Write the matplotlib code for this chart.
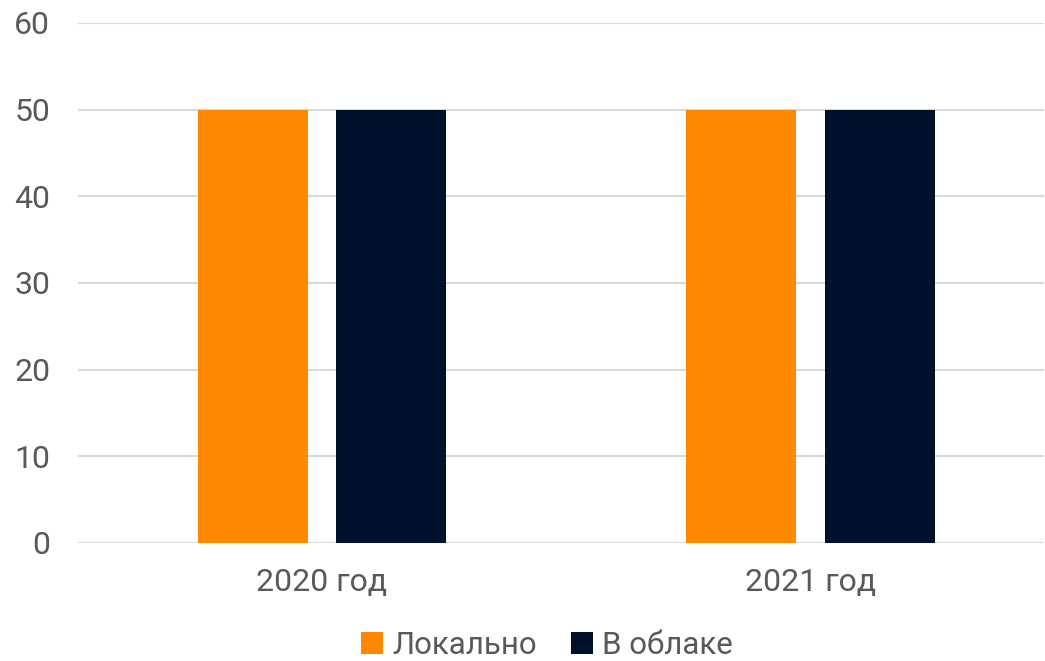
import matplotlib
matplotlib.use("Agg")
import matplotlib.pyplot as plt
from matplotlib.patches import Patch
import numpy as np

categories = ["2020 год", "2021 год"]
series_names = ["Локально", "В облаке"]
local_vals = [50, 50]
cloud_vals = [50, 50]
yticks = [0, 10, 20, 30, 40, 50, 60]

colors = ["#FF8800", "#00112B"]
text_color = "#595959"

plt.rcParams['font.family'] = ['Roboto', 'DejaVu Sans']

fig = plt.figure(figsize=(10.45, 6.61), dpi=100)
W, H = 1045, 661
ax = fig.add_axes([78 / W, (H - 543) / H, (1044 - 78) / W, (543 - 23) / H])

x = np.arange(len(categories))
bw = 0.225
off = 0.142
ax.bar(x - off, local_vals, bw, color=colors[0], label=series_names[0], zorder=3)
ax.bar(x + off, cloud_vals, bw, color=colors[1], label=series_names[1], zorder=3)

ax.set_xlim(-0.4995, 1.478)
ax.set_ylim(0, 60)
ax.set_yticks(yticks)
ax.set_yticklabels([str(v) for v in yticks])
ax.set_xticks(x)
ax.set_xticklabels(categories)

for s in ax.spines.values():
    s.set_visible(False)
ax.yaxis.grid(True, color="#D9D9D9", linewidth=1.5, zorder=0)
ax.tick_params(axis="both", length=0, labelsize=23, colors=text_color)
ax.tick_params(axis="y", pad=20)
ax.tick_params(axis="x", pad=18)

handles = [Patch(facecolor=c, label=n) for c, n in zip(colors, series_names)]
fig.legend(handles=handles, loc="center", bbox_to_anchor=(547 / W, (H - 645) / H),
           ncol=2, frameon=False, fontsize=22.5, labelcolor=text_color,
           handlelength=0.7, handleheight=0.7, handletextpad=0.3, columnspacing=1.1)

fig.savefig("out.png", dpi=100)
